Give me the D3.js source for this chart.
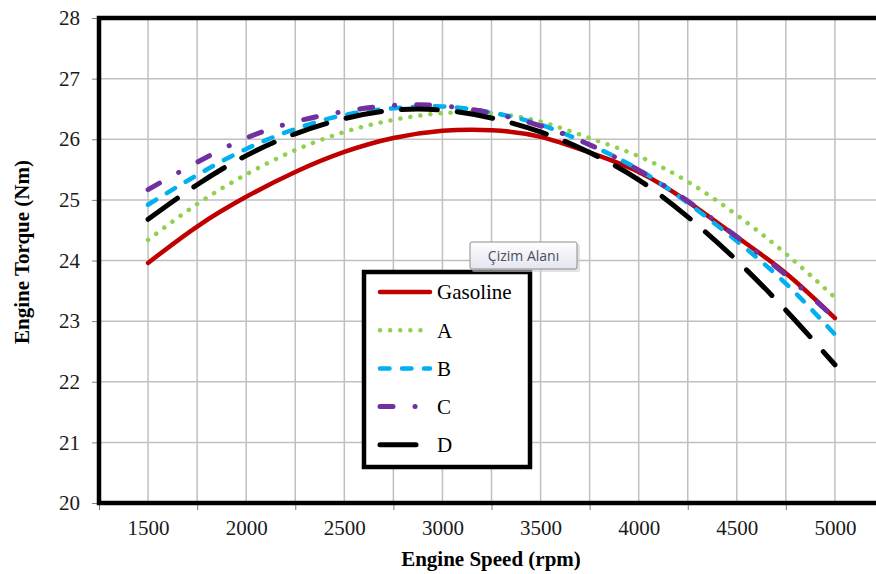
<!DOCTYPE html>
<html>
<head>
<meta charset="utf-8">
<script src="https://cdn.jsdelivr.net/npm/d3@7"></script>
<style>
  body { margin: 0; background: #fff; }
  svg { display: block; font-family: "Liberation Serif", "Times New Roman", serif; }
  .tick text { fill: #1a1a1a; }
</style>
</head>
<body>
<svg id="chart" width="876" height="574"></svg>
<script>
// engine speed (rpm) and torque (Nm)
const rpm = [1500, 1750, 2000, 2250, 2500, 2750, 3000, 3250, 3500, 3750, 4000, 4250, 4500, 4750, 5000];
const gasoline = [23.96, 24.56, 25.05, 25.46, 25.79, 26.02, 26.14, 26.15, 26.04, 25.78, 25.46, 24.97, 24.39, 23.79, 23.05];
const fuelA = [24.34, 24.93, 25.42, 25.82, 26.12, 26.32, 26.43, 26.43, 26.29, 26.02, 25.72, 25.3, 24.75, 24.11, 23.39];
const fuelB = [24.92, 25.41, 25.84, 26.17, 26.4, 26.51, 26.54, 26.44, 26.24, 25.91, 25.5, 24.95, 24.32, 23.62, 22.78];
const fuelC = [25.17, 25.62, 26.02, 26.29, 26.46, 26.56, 26.55, 26.43, 26.22, 25.91, 25.49, 24.98, 24.39, 23.76, 23.05];
const fuelD = [24.68, 25.25, 25.73, 26.09, 26.34, 26.48, 26.48, 26.35, 26.12, 25.78, 25.33, 24.72, 24.0, 23.18, 22.28];

const seriesNames = ["Gasoline", "A", "B", "C", "D"];
const yTicks = [20, 21, 22, 23, 24, 25, 26, 27, 28];
const xLabels = [1500, 2000, 2500, 3000, 3500, 4000, 4500, 5000];

const serif = "Liberation Serif, Times New Roman, serif";
const svg = d3.select("#chart");

// plot area runs a little past the right edge of the picture, like the original
const x = d3.scaleLinear().domain([1250, 5250]).range([99, 884]);
const y = d3.scaleLinear().domain([20, 28]).range([503, 18]);

const styles = {
    "Gasoline": { color: "#c00000", width: 4.5, dash: null },
    "A": { color: "#92d050", width: 4.5, dash: "0.1,10" },
    "B": { color: "#00b0f0", width: 4.5, dash: "9.5,12.5" },
    "C": { color: "#7030a0", width: 5, dash: "13,22,0.1,22" },
    "D": { color: "#000000", width: 5, dash: "36,20" }
};
const values = { "Gasoline": gasoline, "A": fuelA, "B": fuelB, "C": fuelC, "D": fuelD };

// grid
const grid = svg.append("g").attr("stroke", "#c0c0c0").attr("stroke-width", 1.5);
grid.selectAll("line.v")
    .data(d3.range(1500, 5001, 250))
    .enter().append("line")
    .attr("x1", d => x(d)).attr("x2", d => x(d))
    .attr("y1", y(28)).attr("y2", y(20));
grid.selectAll("line.h")
    .data(yTicks.slice(1, -1))
    .enter().append("line")
    .attr("x1", x(1250)).attr("x2", x(5250))
    .attr("y1", d => y(d)).attr("y2", d => y(d));

// y axis
const yAxis = svg.append("g")
    .attr("transform", "translate(" + (x(1250) - 2) + ",0)")
    .call(d3.axisLeft(y).tickValues(yTicks).tickSize(5).tickPadding(12).tickFormat(d3.format("d")));
yAxis.select(".domain").remove();
yAxis.selectAll(".tick line").attr("stroke", "#808080");
yAxis.selectAll(".tick text").style("font-family", serif).style("font-size", "21px");

// x axis: marks sit between the labels
const xMarks = svg.append("g")
    .attr("transform", "translate(0," + (y(20) + 2) + ")")
    .call(d3.axisBottom(x).tickValues(d3.range(1250, 5251, 500)).tickSize(5).tickFormat(""));
xMarks.select(".domain").remove();
xMarks.selectAll(".tick line").attr("stroke", "#808080");

const xAxis = svg.append("g")
    .attr("transform", "translate(0," + (y(20) + 2) + ")")
    .call(d3.axisBottom(x).tickValues(xLabels).tickSize(0).tickPadding(15).tickFormat(d3.format("d")));
xAxis.select(".domain").remove();
xAxis.selectAll(".tick text").style("font-family", serif).style("font-size", "21px");

// series
const line = d3.line()
    .x(d => x(d[0]))
    .y(d => y(d[1]))
    .curve(d3.curveNatural);

seriesNames.forEach(function(name) {
    const s = styles[name];
    svg.append("path")
        .datum(rpm.map((r, i) => [r, values[name][i]]))
        .attr("d", line)
        .attr("fill", "none")
        .attr("stroke", s.color)
        .attr("stroke-width", s.width)
        .attr("stroke-linecap", "round")
        .attr("stroke-linejoin", "round")
        .attr("stroke-dasharray", s.dash);
});

// plot border
svg.append("rect")
    .attr("x", x(1250)).attr("y", y(28))
    .attr("width", x(5250) - x(1250)).attr("height", y(20) - y(28))
    .attr("fill", "none").attr("stroke", "#000").attr("stroke-width", 4.5);

// axis titles
svg.append("text")
    .attr("x", 491).attr("y", 566)
    .attr("text-anchor", "middle")
    .style("font-size", "21px").style("font-weight", "bold")
    .text("Engine Speed (rpm)");
svg.append("text")
    .attr("transform", "translate(29,252) rotate(-90)")
    .attr("text-anchor", "middle")
    .style("font-size", "21px").style("font-weight", "bold")
    .text("Engine Torque (Nm)");

// legend
const legend = svg.append("g");
legend.append("rect")
    .attr("x", 364).attr("y", 272).attr("width", 166).attr("height", 195)
    .attr("fill", "#fff").attr("stroke", "#000").attr("stroke-width", 4.5);
seriesNames.forEach(function(name, i) {
    const s = styles[name];
    const ly = 292 + i * 38.2;
    legend.append("line")
        .attr("x1", 380).attr("x2", 430)
        .attr("y1", ly).attr("y2", ly)
        .attr("stroke", s.color)
        .attr("stroke-width", s.width)
        .attr("stroke-linecap", "round")
        .attr("stroke-dasharray", s.dash);
    legend.append("text")
        .attr("x", 437).attr("y", ly).attr("dy", "0.35em")
        .style("font-size", "21px")
        .text(name);
});

// the hover label that was in the screenshot
const tip = svg.append("g").attr("transform", "translate(470,242)");
const defs = svg.append("defs");
const grad = defs.append("linearGradient").attr("id", "tipGrad").attr("x1", 0).attr("y1", 0).attr("x2", 0).attr("y2", 1);
grad.append("stop").attr("offset", "0%").attr("stop-color", "#ffffff");
grad.append("stop").attr("offset", "100%").attr("stop-color", "#e4e5f0");
tip.append("rect")
    .attr("x", 2).attr("y", 2).attr("width", 108).attr("height", 28).attr("rx", 2)
    .attr("fill", "#d0d0d0").attr("opacity", 0.6);
tip.append("rect")
    .attr("x", 0).attr("y", 0).attr("width", 107).attr("height", 27).attr("rx", 2)
    .attr("fill", "url(#tipGrad)").attr("stroke", "#8c8c8c").attr("stroke-width", 1);
tip.append("text")
    .attr("x", 53.5).attr("y", 14).attr("dy", "0.35em")
    .attr("text-anchor", "middle")
    .style("font-family", "'Open Sans', 'DejaVu Sans', sans-serif")
    .style("font-size", "14px").style("fill", "#4c4c5c")
    .text("Çizim Alanı");
</script>
</body>
</html>
